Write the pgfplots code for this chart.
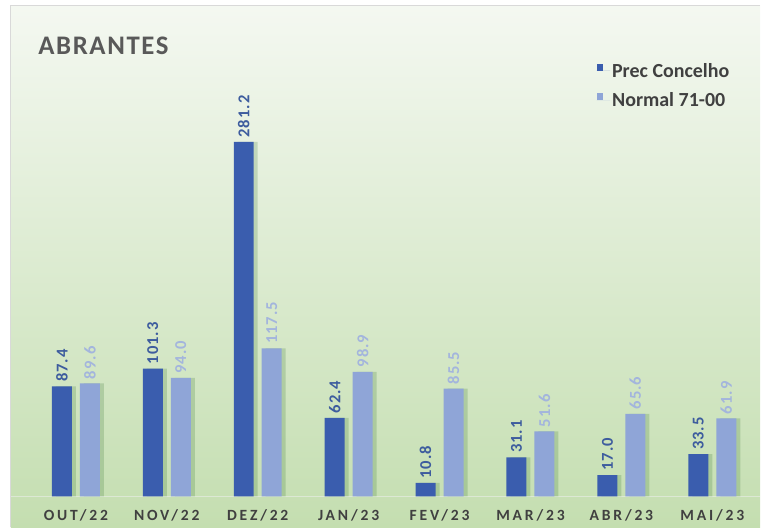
\documentclass[border=0pt]{standalone}
\usepackage{fontspec}
\setmainfont{Carlito}
\newfontfamily\catfont{Carlito}[LetterSpace=18]
\newfontfamily\titlefont{Carlito}[LetterSpace=6]
\newfontfamily\valfont{Carlito}[LetterSpace=6]
\usepackage{pgfplots}
\pgfplotsset{compat=1.18}
\definecolor{darkbar}{HTML}{3A5DAE}
\definecolor{lightbar}{HTML}{8FA5D7}
\definecolor{darklab}{HTML}{3D5C9E}
\definecolor{lightlab}{HTML}{A3B5DD}
\definecolor{bgtop}{HTML}{F4F8F1}
\definecolor{bgbot}{HTML}{C4DEB0}
\definecolor{txt}{HTML}{404040}
\definecolor{baseln}{HTML}{DCE8D4}
\begin{document}
\begin{tikzpicture}
\fill[white] (0,0) rectangle (380.5pt,264pt);
\shade[top color=bgtop, bottom color=bgbot] (5.5pt,0) rectangle (380.5pt,261pt);
\draw[black!15, line width=0.5pt] (5.5pt,0) -- (5.5pt,261pt) -- (380.5pt,261pt);
\node[anchor=base west, font=\titlefont\bfseries\fontsize{13.4}{15}\selectfont, text=black!65, inner sep=0pt] at (19pt,236.5pt) {ABRANTES};
\begin{axis}[
  at={(5.5pt,15.5pt)}, anchor=south west,
  scale only axis, width=375pt, height=245.5pt,
  xmin=-0.714, xmax=7.527, ymin=0, ymax=389,
  ybar, bar width=10pt,
  axis y line=none, axis x line*=bottom,
  x axis line style={draw=baseln, line width=0.8pt},
  xtick={0,...,7},
  xticklabels={OUT/22,NOV/22,DEZ/22,JAN/23,FEV/23,MAR/23,ABR/23,MAI/23},
  major tick length=0pt,
  xticklabel style={font=\catfont\bfseries\fontsize{7.8}{9}\selectfont, text=txt, yshift=-3pt},
  /pgf/number format/assume math mode=true,
  clip=false,
  legend style={at={(0.773,0.89)}, anchor=north west, draw=none, fill=none,
    font=\bfseries\fontsize{10}{12}\selectfont, text=txt, row sep=8.1pt,
    nodes={inner sep=0pt, text height=6.4pt, text depth=0pt, inner xsep=1pt}},
  legend cell align=left,
  legend image code/.code={\fill[#1] (0pt,0pt) rectangle (3.3pt,3.3pt); \path (0pt,0pt) -- (6.8pt,0pt);},
  nodes near coords={\pgfmathprintnumber[fixed,fixed zerofill,precision=1]{\pgfplotspointmeta}},
  every node near coord/.append style={rotate=90, anchor=west, font=\valfont\bfseries\fontsize{8.3}{10}\selectfont, inner sep=2pt},
]
% shadows
\addplot[draw=none, fill=black!70!green, fill opacity=0.16, bar shift=-5pt, forget plot, nodes near coords={}] coordinates {
 (0,87.4) (1,101.3) (2,281.2) (3,62.4) (4,10.8) (5,31.1) (6,17.0) (7,33.5)};
\addplot[draw=none, fill=black!70!green, fill opacity=0.16, bar shift=9pt, forget plot, nodes near coords={}] coordinates {
 (0,89.6) (1,94.0) (2,117.5) (3,98.9) (4,85.5) (5,51.6) (6,65.6) (7,61.9)};
% main bars
\addplot[draw=none, fill=darkbar, bar shift=-7pt, every node near coord/.append style={text=darklab}] coordinates {
 (0,87.4) (1,101.3) (2,281.2) (3,62.4) (4,10.8) (5,31.1) (6,17.0) (7,33.5)};
\addlegendentry{Prec Concelho}
\addplot[draw=none, fill=lightbar, bar shift=7pt, every node near coord/.append style={text=lightlab}] coordinates {
 (0,89.6) (1,94.0) (2,117.5) (3,98.9) (4,85.5) (5,51.6) (6,65.6) (7,61.9)};
\addlegendentry{Normal 71-00}
\end{axis}
\end{tikzpicture}
\end{document}
